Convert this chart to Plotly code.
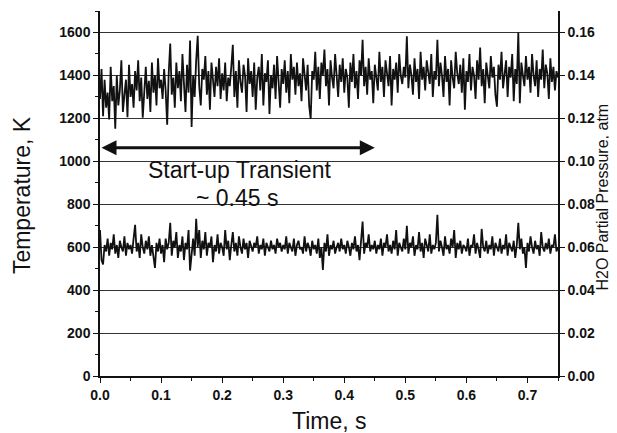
import numpy as np
import plotly.graph_objects as go

# sample times (s), uniform acquisition grid 0 .. 0.75 s
time_s = np.round(np.arange(301) * 0.0025, 5)

# Temperature trace (K), left axis
temperature_K = [
    1290, 1430, 1210, 1380, 1250, 1320, 1195, 1440, 1280, 1350, 1152, 1400, 1260, 1330, 1470, 1230, 1310, 1380, 1205, 1450,
    1300, 1360, 1250, 1420, 1330, 1470, 1280, 1390, 1203, 1350, 1440, 1290, 1375, 1230, 1460, 1320, 1400, 1260, 1480, 1340,
    1380, 1290, 1430, 1330, 1170, 1410, 1548, 1310, 1390, 1250, 1460, 1340, 1420, 1280, 1500, 1360, 1230, 1450, 1320, 1562,
    1160, 1400, 1300, 1470, 1585, 1350, 1260, 1430, 1380, 1490, 1310, 1420, 1240, 1460, 1370, 1300, 1440, 1350, 1480, 1290,
    1410, 1330, 1460, 1280, 1390, 1350, 1440, 1543, 1300, 1420, 1250, 1470, 1370, 1320, 1450, 1400, 1230, 1480, 1360, 1420,
    1300, 1460, 1240, 1390, 1440, 1330, 1500, 1260, 1410, 1370, 1470, 1220, 1400, 1340, 1450, 1290, 1490, 1380, 1250, 1430,
    1360, 1470, 1320, 1420, 1270, 1500, 1380, 1440, 1310, 1460, 1350, 1410, 1280, 1480, 1390, 1330, 1450, 1260, 1198, 1420,
    1380, 1510, 1330, 1440, 1290, 1460, 1400, 1520, 1350, 1430, 1260, 1470, 1390, 1340, 1500, 1420, 1300, 1450, 1370, 1480,
    1320, 1430, 1390, 1250, 1460, 1370, 1500, 1340, 1420, 1290, 1470, 1400, 1566, 1350, 1440, 1310, 1480, 1380, 1420, 1270,
    1450, 1390, 1330, 1510, 1370, 1440, 1300, 1470, 1410, 1350, 1490, 1260, 1430, 1380, 1460, 1320, 1500, 1400, 1360, 1440,
    1390, 1582, 1340, 1450, 1400, 1310, 1480, 1370, 1430, 1290, 1510, 1380, 1440, 1330, 1470, 1410, 1360, 1500, 1300, 1420,
    1380, 1566, 1350, 1460, 1400, 1300, 1490, 1370, 1430, 1260, 1470, 1390, 1340, 1510, 1410, 1360, 1450, 1320, 1480, 1240,
    1420, 1370, 1500, 1330, 1440, 1400, 1290, 1470, 1380, 1530, 1350, 1430, 1270, 1460, 1410, 1340, 1490, 1390, 1440, 1310,
    1254, 1450, 1380, 1510, 1340, 1420, 1470, 1300, 1440, 1390, 1500, 1280, 1430, 1360, 1600, 1270, 1460, 1400, 1350, 1490,
    1380, 1440, 1320, 1500, 1400, 1350, 1470, 1300, 1430, 1380, 1520, 1340, 1450, 1410, 1290, 1480, 1370, 1440, 1330, 1420,
    1390,
]

# H2O partial pressure trace (atm), right axis
h2o_atm = [
    0.0680, 0.0540, 0.0520, 0.0610, 0.0580, 0.0640, 0.0560, 0.0620, 0.0590, 0.0660, 0.0570, 0.0610, 0.0550, 0.0630, 0.0600, 0.0580, 0.0650, 0.0560, 0.0620, 0.0590,
    0.0610, 0.0570, 0.0640, 0.0704, 0.0580, 0.0620, 0.0550, 0.0660, 0.0600, 0.0570, 0.0630, 0.0590, 0.0650, 0.0560, 0.0610, 0.0540, 0.0503, 0.0620, 0.0580, 0.0640,
    0.0570, 0.0610, 0.0530, 0.0640, 0.0590, 0.0620, 0.0713, 0.0560, 0.0630, 0.0600, 0.0670, 0.0550, 0.0610, 0.0580, 0.0650, 0.0540, 0.0620, 0.0590, 0.0680, 0.0491,
    0.0580, 0.0640, 0.0560, 0.0732, 0.0600, 0.0680, 0.0550, 0.0630, 0.0590, 0.0670, 0.0560, 0.0620, 0.0600, 0.0650, 0.0530, 0.0610, 0.0580, 0.0660, 0.0570, 0.0620,
    0.0600, 0.0560, 0.0680, 0.0590, 0.0630, 0.0540, 0.0610, 0.0670, 0.0580, 0.0620, 0.0560, 0.0650, 0.0600, 0.0570, 0.0640, 0.0590, 0.0620, 0.0550, 0.0630, 0.0600,
    0.0580, 0.0620, 0.0600, 0.0650, 0.0570, 0.0610, 0.0590, 0.0640, 0.0560, 0.0620, 0.0600, 0.0580, 0.0630, 0.0590, 0.0610, 0.0570, 0.0640, 0.0600, 0.0620, 0.0580,
    0.0610, 0.0590, 0.0650, 0.0570, 0.0620, 0.0600, 0.0580, 0.0640, 0.0560, 0.0610, 0.0630, 0.0590, 0.0600, 0.0570, 0.0650, 0.0580, 0.0620, 0.0600, 0.0560, 0.0630,
    0.0590, 0.0610, 0.0570, 0.0640, 0.0550, 0.0600, 0.0494, 0.0620, 0.0580, 0.0660, 0.0560, 0.0610, 0.0590, 0.0630, 0.0570, 0.0600, 0.0620, 0.0580, 0.0640, 0.0590,
    0.0610, 0.0570, 0.0630, 0.0600, 0.0560, 0.0620, 0.0590, 0.0650, 0.0580, 0.0610, 0.0540, 0.0630, 0.0719, 0.0570, 0.0620, 0.0600, 0.0660, 0.0580, 0.0610, 0.0590,
    0.0630, 0.0570, 0.0610, 0.0590, 0.0640, 0.0560, 0.0620, 0.0600, 0.0660, 0.0580, 0.0610, 0.0570, 0.0630, 0.0590, 0.0680, 0.0560, 0.0620, 0.0600, 0.0580, 0.0640,
    0.0590, 0.0700, 0.0570, 0.0620, 0.0600, 0.0650, 0.0560, 0.0610, 0.0590, 0.0670, 0.0580, 0.0620, 0.0550, 0.0640, 0.0600, 0.0580, 0.0660, 0.0570, 0.0610, 0.0590,
    0.0620, 0.0751, 0.0580, 0.0630, 0.0600, 0.0560, 0.0650, 0.0590, 0.0610, 0.0570, 0.0640, 0.0600, 0.0680, 0.0550, 0.0620, 0.0590, 0.0630, 0.0570, 0.0610, 0.0600,
    0.0580, 0.0640, 0.0560, 0.0610, 0.0600, 0.0660, 0.0570, 0.0620, 0.0590, 0.0550, 0.0685, 0.0600, 0.0580, 0.0630, 0.0570, 0.0610, 0.0590, 0.0650, 0.0560, 0.0620,
    0.0600, 0.0580, 0.0640, 0.0570, 0.0610, 0.0590, 0.0660, 0.0560, 0.0620, 0.0600, 0.0580, 0.0630, 0.0550, 0.0610, 0.0713, 0.0590, 0.0640, 0.0570, 0.0600, 0.0503,
    0.0620, 0.0580, 0.0650, 0.0600, 0.0570, 0.0630, 0.0590, 0.0610, 0.0560, 0.0670, 0.0600, 0.0580, 0.0620, 0.0590, 0.0640, 0.0570, 0.0610, 0.0600, 0.0660, 0.0580,
    0.0600,
]

transient_end_s = 0.45
arrow_level_K = 1063

FONT = "Liberation Sans, Arial, sans-serif"
INK = "#111111"

fig = go.Figure()
fig.add_trace(go.Scatter(x=time_s, y=temperature_K, mode="lines",
                         line=dict(color=INK, width=1.8), yaxis="y", showlegend=False))
fig.add_trace(go.Scatter(x=time_s, y=h2o_atm, mode="lines",
                         line=dict(color=INK, width=1.8), yaxis="y2", showlegend=False))

tickfont = dict(family=FONT, size=14, color=INK, weight="bold")

fig.update_layout(
    width=609, height=425,
    margin=dict(l=92, r=59, t=3, b=57, autoexpand=False),
    paper_bgcolor="white", plot_bgcolor="white",
    xaxis=dict(range=[0, 0.75], dtick=0.1, tickformat=".1f", showgrid=False, zeroline=False,
               showline=True, linecolor=INK, linewidth=1.5,
               ticks="outside", ticklen=5, tickwidth=1.2, tickcolor=INK,
               minor=dict(dtick=0.05, ticks="outside", ticklen=3, tickcolor=INK),
               tickfont=tickfont),
    yaxis=dict(range=[0, 1700], dtick=200, tick0=0, showgrid=True, gridcolor="#333333", gridwidth=1,
               zeroline=False, showline=True, linecolor=INK, linewidth=1.5,
               ticks="outside", ticklen=5, tickwidth=1.2, tickcolor=INK,
               minor=dict(dtick=100, ticks="outside", ticklen=3, tickcolor=INK),
               tickfont=tickfont),
    yaxis2=dict(range=[0, 0.17], dtick=0.02, tick0=0, tickformat=".2f", overlaying="y", side="right",
                showgrid=False, zeroline=False, showline=True, linecolor=INK, linewidth=1.5,
                ticks="outside", ticklen=5, tickwidth=1.2, tickcolor=INK,
                tickfont=tickfont),
)

# arrow marking the start-up transient
fig.add_annotation(x=transient_end_s, y=arrow_level_K, ax=0.0, ay=arrow_level_K,
                   xref="x", yref="y", axref="x", ayref="y", text="",
                   showarrow=True, arrowhead=2, startarrowhead=2, arrowside="end+start",
                   arrowsize=1, startarrowsize=1, arrowwidth=3, arrowcolor=INK)
fig.add_annotation(x=0.228, y=959, xref="x", yref="y", text="Start-up Transient",
                   showarrow=False, font=dict(family=FONT, size=23, color=INK))
fig.add_annotation(x=0.224, y=830, xref="x", yref="y", text="~ 0.45 s",
                   showarrow=False, font=dict(family=FONT, size=23, color=INK))

# axis titles
fig.add_annotation(x=-0.170, y=0.496, xref="paper", yref="paper", text="Temperature, K",
                   textangle=-90, showarrow=False, xanchor="center", yanchor="middle",
                   font=dict(family=FONT, size=23, color=INK))
fig.add_annotation(x=1.097, y=0.49, xref="paper", yref="paper", text="H2O Partial Pressure, atm",
                   textangle=-90, showarrow=False, xanchor="center", yanchor="middle",
                   font=dict(family=FONT, size=16, color=INK))
fig.add_annotation(x=0.502, y=-0.123, xref="paper", yref="paper", text="Time, s",
                   showarrow=False, xanchor="center", yanchor="middle",
                   font=dict(family=FONT, size=23, color=INK))

fig.write_html("out.html")
